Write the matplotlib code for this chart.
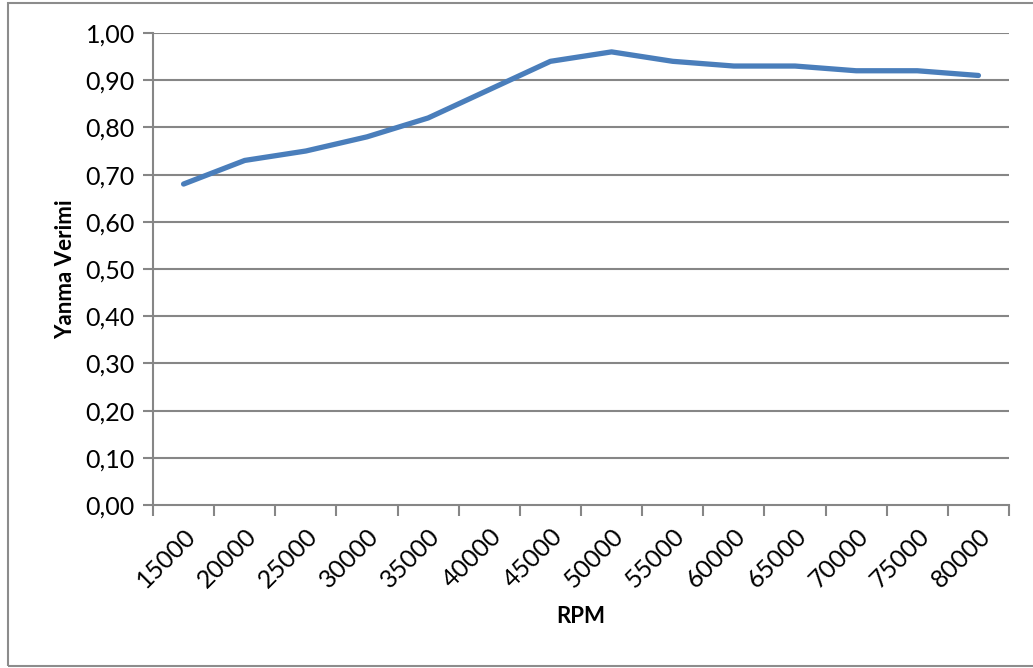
import matplotlib
matplotlib.use("Agg")
import matplotlib.pyplot as plt
from matplotlib.patches import Rectangle
from matplotlib.ticker import FixedLocator, FuncFormatter

# RPM kategorileri ve yanma verimi değerleri
rpm = [15000, 20000, 25000, 30000, 35000, 40000, 45000,
       50000, 55000, 60000, 65000, 70000, 75000, 80000]
yanma_verimi = [0.68, 0.73, 0.75, 0.78, 0.82, 0.88, 0.94,
                0.96, 0.94, 0.93, 0.93, 0.92, 0.92, 0.91]
y_ticks = [0.0, 0.1, 0.2, 0.3, 0.4, 0.5, 0.6, 0.7, 0.8, 0.9, 1.0]

plt.rcParams['font.family'] = ['Lato', 'DejaVu Sans']

W, H = 1033, 668
fig = plt.figure(figsize=(W / 100, H / 100), dpi=100)
fig.patch.set_facecolor('white')

# dış çerçeve
fig.add_artist(Rectangle((8 / W, 2 / H), 1.2, 1 - 5 / H, transform=fig.transFigure,
                         fill=False, edgecolor='#8c8c8c', linewidth=1.5))

ax = fig.add_axes([153 / W, 1 - 505 / H, (1009 - 153) / W, (505 - 33) / H])

n = len(rpm)
x = [i + 0.5 for i in range(n)]
ax.plot(x, yanma_verimi, color='#4a7ebb', linewidth=3.8, solid_capstyle='round',
        solid_joinstyle='round', zorder=3)

ax.set_xlim(0, n)
ax.set_ylim(0, 1.0)

grid_color = '#868686'
for y in y_ticks[1:]:
    ax.axhline(y, color=grid_color, linewidth=1.5, zorder=1)

for side in ['top', 'right']:
    ax.spines[side].set_visible(False)
for side in ['left', 'bottom']:
    ax.spines[side].set_color(grid_color)
    ax.spines[side].set_linewidth(1.5)

ax.yaxis.set_major_locator(FixedLocator(y_ticks))
ax.yaxis.set_major_formatter(FuncFormatter(lambda v, p: f"{v:.2f}".replace('.', ',')))
ax.tick_params(axis='y', length=7, width=1.5, color=grid_color, labelsize=18, pad=6)

# kategori sınırlarında tik işaretleri, etiketler kategori ortasında
ax.set_xticks(range(n + 1))
ax.set_xticklabels([])
ax.tick_params(axis='x', which='major', length=8, width=1.5, color=grid_color)
ax.set_xticks(x, minor=True)
ax.set_xticklabels([str(r) for r in rpm], minor=True, rotation=45, ha='right',
                   va='top', rotation_mode='anchor', fontsize=18)
ax.tick_params(axis='x', which='minor', length=0, pad=14)

ax.set_ylabel('Yanma Verimi', fontsize=16, fontweight='bold', labelpad=7)
ax.set_xlabel('RPM', fontsize=16, fontweight='bold', labelpad=10)

fig.savefig('out.png', dpi=100, facecolor='white')
